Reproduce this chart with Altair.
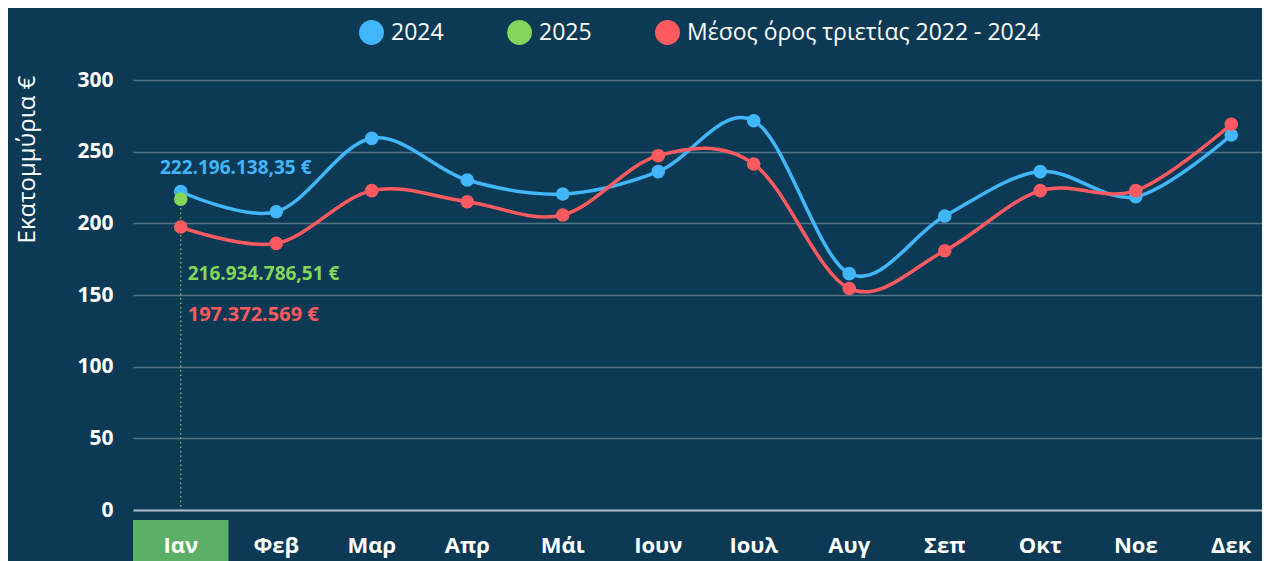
import altair as alt
import pandas as pd

months = ["Ιαν", "Φεβ", "Μαρ", "Απρ", "Μάι", "Ιουν", "Ιουλ", "Αυγ", "Σεπ", "Οκτ", "Νοε", "Δεκ"]
v2024 = [222.2, 208.1, 259.3, 230.2, 220.5, 236.1, 271.6, 164.9, 205.1, 236.1, 218.6, 261.6]
vavg = [197.4, 186.0, 222.8, 215.1, 205.8, 247.2, 241.4, 154.5, 180.9, 222.8, 222.8, 269.1]
m2025 = ["Ιαν"]
v2025 = [216.9]
series = ["2024", "2025", "Μέσος όρος τριετίας 2022 - 2024"]
colors = ["#41b6fb", "#84d65a", "#ff5a5f"]
ann_text = ["222.196.138,35 €", "216.934.786,51 €", "197.372.569 €"]
ann_value = [222.2, 216.9, 197.4]

FONT = "Open Sans"
BG = "#0c3a55"

rows = []
for m, v in zip(months, v2024):
    rows.append({"month": m, "value": v, "series": series[0]})
for m, v in zip(m2025, v2025):
    rows.append({"month": m, "value": v, "series": series[1]})
for m, v in zip(months, vavg):
    rows.append({"month": m, "value": v, "series": series[2]})
df = pd.DataFrame(rows)

xscale = alt.Scale(range=[0, 1146], paddingInner=0, paddingOuter=0)
xs = alt.X("month:N", sort=months, scale=xscale,
           axis=alt.Axis(title=None, labelAngle=0, labelAlign="center", labelBaseline="top",
                         labelFont=FONT, labelFontSize=22, labelFontWeight="bold",
                         labelColor="white", labelPadding=25, ticks=False, domain=True,
                         domainColor="#a9bac5", domainWidth=2, grid=False, zindex=1))
ys = alt.Y("value:Q", scale=alt.Scale(domain=[0, 300], nice=False),
           axis=alt.Axis(title="Εκατομμύρια €", titleFont=FONT, titleFontSize=24, titleFontWeight="normal",
                         titleColor="white", titleAngle=270, titleX=-106, titleY=79, titleAlign="center",
                         titleBaseline="middle",
                         values=[0, 50, 100, 150, 200, 250, 300], labelFont=FONT, labelFontSize=21,
                         labelFontWeight="bold", labelColor="white", labelPadding=20, ticks=False,
                         domain=False, grid=True, gridColor="#ffffff", gridOpacity=0.3, gridWidth=1.5))
color = alt.Color("series:N", scale=alt.Scale(domain=series, range=colors),
                  legend=alt.Legend(title=None, orient="none", legendX=226, legendY=-60, direction="horizontal",
                                    symbolType="circle", symbolSize=620, symbolStrokeWidth=0,
                                    labelFont=FONT, labelFontSize=23, labelColor="white", labelOffset=7,
                                    columnPadding=63, labelLimit=600))

base = alt.Chart(df)

box = alt.Chart(pd.DataFrame({"month": ["Ιαν"]})).mark_rect(color="#5bb065").encode(
    x=alt.X("month:N", sort=months, scale=xscale),
    y=alt.value(440), y2=alt.value(485))

rule = alt.Chart(pd.DataFrame({"month": m2025, "value": v2025})).mark_rule(
    color="#84d65a", strokeDash=[1.5, 3], strokeWidth=1.3, opacity=0.9).encode(
    x=alt.X("month:N", sort=months), y="value:Q", y2=alt.datum(0))

lines = base.transform_filter(alt.datum.series != "2025").mark_line(
    interpolate="cardinal", strokeWidth=3.5).encode(x=xs, y=ys, color=color)


def pts(name):
    return base.transform_filter(alt.datum.series == name).mark_circle(size=185, opacity=1).encode(
        x=alt.X("month:N", sort=months), y="value:Q", color=color)


ann_df = pd.DataFrame({"month": ["Ιαν"] * 3, "value": ann_value, "text": ann_text})
ann_blue = alt.Chart(ann_df.iloc[[0]]).mark_text(font=FONT, fontSize=19, fontWeight="bold", color=colors[0],
                                                 align="center", baseline="middle", dx=55, dy=-24).encode(
    x=alt.X("month:N", sort=months), y="value:Q", text="text:N")
ann_green = alt.Chart(ann_df.iloc[[1]]).mark_text(font=FONT, fontSize=19, fontWeight="bold", color=colors[1],
                                                  align="left", baseline="middle", dx=7, dy=75).encode(
    x=alt.X("month:N", sort=months), y="value:Q", text="text:N")
ann_red = alt.Chart(ann_df.iloc[[2]]).mark_text(font=FONT, fontSize=20, fontWeight="bold", color=colors[2],
                                                align="left", baseline="middle", dx=7, dy=88).encode(
    x=alt.X("month:N", sort=months), y="value:Q", text="text:N")

chart = alt.layer(box, rule, lines, pts(series[0]), pts(series[1]), pts(series[2]),
                  ann_blue, ann_green, ann_red).properties(
    width=1129, height=430,
    autosize=alt.AutoSizeParams(type="none"),
    padding={"left": 125, "top": 72, "right": 0, "bottom": 51},
    background=BG,
).configure_view(stroke=None)

chart.save("out.html", embed_options={"renderer": "svg", "actions": False})
